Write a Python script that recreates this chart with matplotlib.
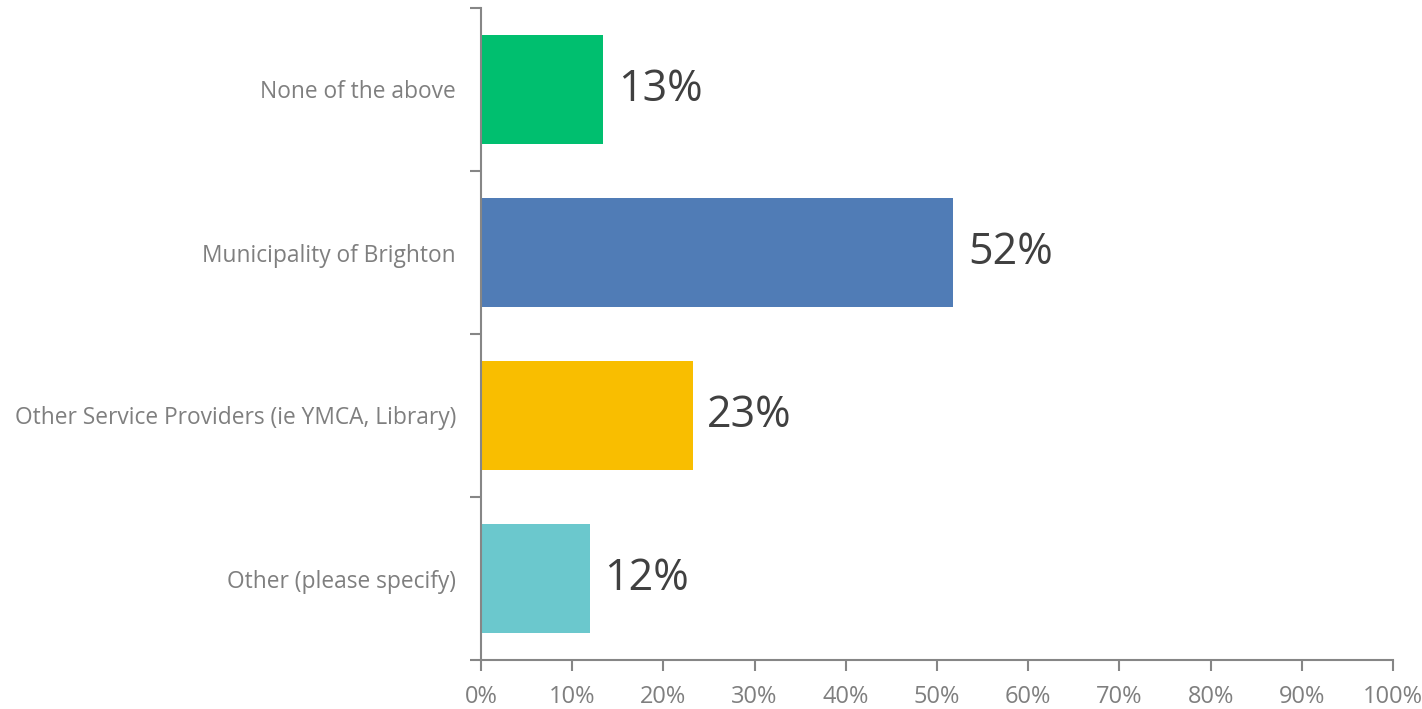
import matplotlib
matplotlib.use("Agg")
import matplotlib.pyplot as plt
from matplotlib.ticker import PercentFormatter, FixedLocator

# survey answers, top to bottom
categories = ["None of the above", "Municipality of Brighton",
              "Other Service Providers (ie YMCA, Library)", "Other (please specify)"]
values = [13.4, 51.8, 23.2, 11.9]
bar_colors = ["#00BF6F", "#507CB6", "#F9BE00", "#6BC8CD"]

axis_grey = "#868686"
text_grey = "#7F7F7F"
label_dark = "#404040"

plt.rcParams['font.family'] = ['Open Sans', 'DejaVu Sans']

fig = plt.figure(figsize=(14.22, 7.09), dpi=100)
ax = fig.add_axes([481/1422, 1 - 660/709, (1393 - 481)/1422, (660 - 8)/709])

ypos = list(range(len(categories)))[::-1]
bars = ax.barh(ypos, values, height=0.67, color=bar_colors)

ax.set_xlim(0, 100)
ax.set_ylim(-0.5, len(categories) - 0.5)

# value labels to the right of each bar
for y, v in zip(ypos, values):
    ax.text(v + 1.6, y, f"{round(v):d}%", va="center", ha="left",
            fontsize=31, color=label_dark)

ax.set_xticks(range(0, 101, 10))
ax.xaxis.set_major_formatter(PercentFormatter(decimals=0))

# category names centred on bars, tick marks between categories
ax.set_yticks(ypos)
ax.set_yticklabels(categories)
ax.yaxis.set_minor_locator(FixedLocator([i - 0.5 for i in range(len(categories) + 1)]))
ax.tick_params(axis="y", which="major", length=0, pad=18, labelsize=16.4, labelcolor=text_grey)
ax.tick_params(axis="y", which="minor", length=8, width=1.5, color=axis_grey)
ax.tick_params(axis="x", length=8, width=1.5, color=axis_grey, labelsize=17,
               labelcolor=text_grey, pad=10)

for side in ["top", "right"]:
    ax.spines[side].set_visible(False)
for side in ["left", "bottom"]:
    ax.spines[side].set_color(axis_grey)
    ax.spines[side].set_linewidth(1.5)

fig.savefig("out.png", dpi=100)
